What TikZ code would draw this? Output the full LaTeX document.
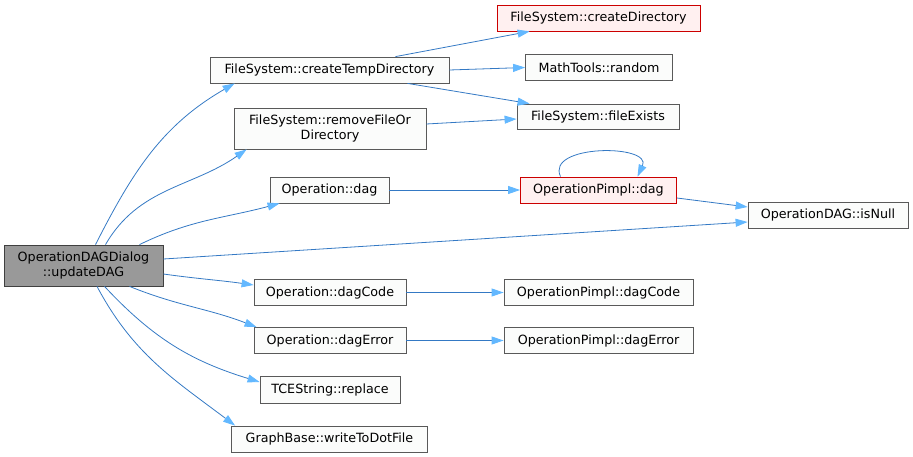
\documentclass[tikz,border=0pt]{standalone}
\usepackage{fontspec}
\setmainfont{DejaVu Sans}
\usepackage{xcolor}
\usetikzlibrary{arrows.meta}

\definecolor{edgeline}{HTML}{3479C4}
\definecolor{edgetip}{HTML}{63B8FF}
\definecolor{nodefill}{HTML}{FBFCFB}
\definecolor{hotfill}{HTML}{FFF0F0}
\definecolor{hotdraw}{HTML}{CC0000}
\definecolor{rootfill}{HTML}{999999}

\begin{document}
\begin{tikzpicture}[
    x=1pt, y=1pt,
    >={Triangle[length=12pt, width=8pt, color=edgetip]},
    fn/.style={rectangle, draw=black!65, line width=0.8pt, fill=nodefill, inner sep=0pt,
               align=center, font=\fontsize{12.7}{15}\selectfont},
    hot/.style={fn, draw=hotdraw, fill=hotfill},
    rootfn/.style={fn, draw=black!75, fill=rootfill},
    arr/.style={->, draw=edgeline, line width=0.8pt}
]
\useasboundingbox (0,0) rectangle (913,-457);

% caller
\node[rootfn, minimum width=159pt, minimum height=41pt] (root) at (83.5,-265.5) {OperationDAGDialog\\::updateDAG};

% direct callees
\node[fn, minimum width=239pt, minimum height=26pt] (ctd)  at (329.5,-70)   {FileSystem::createTempDirectory};
\node[fn, minimum width=192pt, minimum height=41pt] (rfd)  at (330,-128.5)  {FileSystem::removeFileOr\\Directory};
\node[fn, minimum width=119pt, minimum height=26pt] (odag) at (329.5,-190)  {Operation::dag};
\node[fn, minimum width=152pt, minimum height=26pt] (odc)  at (330,-292.5)  {Operation::dagCode};
\node[fn, minimum width=152pt, minimum height=26pt] (ode)  at (330,-340.5)  {Operation::dagError};
\node[fn, minimum width=140pt, minimum height=27pt] (tce)  at (330,-390)    {TCEString::replace};
\node[fn, minimum width=196pt, minimum height=26pt] (wtd)  at (329.5,-439)  {GraphBase::writeToDotFile};

% second level
\node[hot, minimum width=203pt, minimum height=26pt] (cdir) at (598.5,-18)   {FileSystem::createDirectory};
\node[fn,  minimum width=147pt, minimum height=26pt] (rnd)  at (599,-67.5)   {MathTools::random};
\node[fn,  minimum width=162pt, minimum height=25pt] (fex)  at (598,-116.5)  {FileSystem::fileExists};
\node[hot, minimum width=156pt, minimum height=26pt] (pdag) at (598.5,-190)  {OperationPimpl::dag};
\node[fn,  minimum width=189pt, minimum height=26pt] (pdc)  at (598.5,-292.5) {OperationPimpl::dagCode};
\node[fn,  minimum width=189pt, minimum height=26pt] (pde)  at (598.5,-340.5) {OperationPimpl::dagError};
\node[fn,  minimum width=160pt, minimum height=26pt] (isn)  at (828,-215)    {OperationDAG::isNull};

% calls from the dialog
\draw[arr] ([xshift=12pt]root.north) to[out=63, in=-150] ([xshift=25pt]ctd.south west);
\draw[arr] ([xshift=22pt]root.north) to[out=60, in=-145] ([xshift=13pt]rfd.south west);
\draw[arr] ([xshift=56pt]root.north) to[out=26, in=-165] ([xshift=10pt]odag.south west);
\draw[arr] ([yshift=6.5pt]root.east) -- ([yshift=-7pt]isn.west);
\draw[arr] ([yshift=-8.5pt]root.east) to[out=-8, in=172] ([yshift=7.5pt]odc.west);
\draw[arr] ([xshift=46pt]root.south) to[out=-22, in=159] ([xshift=3pt]ode.north west);
\draw[arr] ([xshift=21pt]root.south) to[out=-47, in=163] ([yshift=8pt]tce.west);
\draw[arr] ([xshift=13.5pt]root.south) to[out=-62, in=143] ([xshift=4pt]wtd.north west);

% calls further down
\draw[arr] ([xshift=66pt]ctd.north) -- ([xshift=33pt]cdir.south west);
\draw[arr] (ctd.east) -- (rnd.west);
\draw[arr] ([xshift=78pt]ctd.south) -- ([xshift=13pt]fex.north west);
\draw[arr] ([yshift=4.5pt]rfd.east) -- ([yshift=-2.5pt]fex.west);
\draw[arr] (odag) -- (pdag);
\draw[arr] ([xshift=-38pt]pdag.north) to[out=115, in=65, looseness=1.2] ([xshift=39pt]pdag.north);
\draw[arr] ([yshift=-8pt]pdag.east) -- ([yshift=8pt]isn.west);
\draw[arr] (odc) -- (pdc);
\draw[arr] (ode) -- (pde);
\end{tikzpicture}
\end{document}
